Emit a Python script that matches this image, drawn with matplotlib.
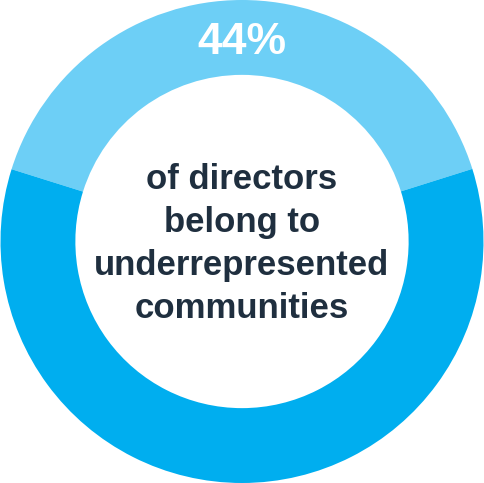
import matplotlib.pyplot as plt

# slice sizes as drawn (light segment on top, dark segment below)
labels = ['underrepresented', 'other']
shares = [40.3, 59.7]
colors = ['#6dcff6', '#00aeef']
headline = '44%'
caption = 'of directors\nbelong to\nunderrepresented\ncommunities'

fig = plt.figure(figsize=(4.84, 4.83), dpi=100)
ax = fig.add_axes([0, 0, 1, 1])
ax.pie(shares, colors=colors, startangle=17.5, radius=1.0,
       wedgeprops=dict(width=0.31, linewidth=0))
ax.set_xlim(-1.0, 1.0)
ax.set_ylim(-1.0, 1.0)
ax.set_aspect('equal')
ax.axis('off')

ax.text(0, 0.825, headline, ha='center', va='center', color='white',
        fontsize=32, fontweight='bold', family='Liberation Sans')
ax.text(0, -0.01, caption, ha='center', va='center', color='#1f2f3f',
        fontsize=25, fontweight='bold', family='Liberation Sans',
        linespacing=1.38)

fig.savefig('out.png', dpi=100)
